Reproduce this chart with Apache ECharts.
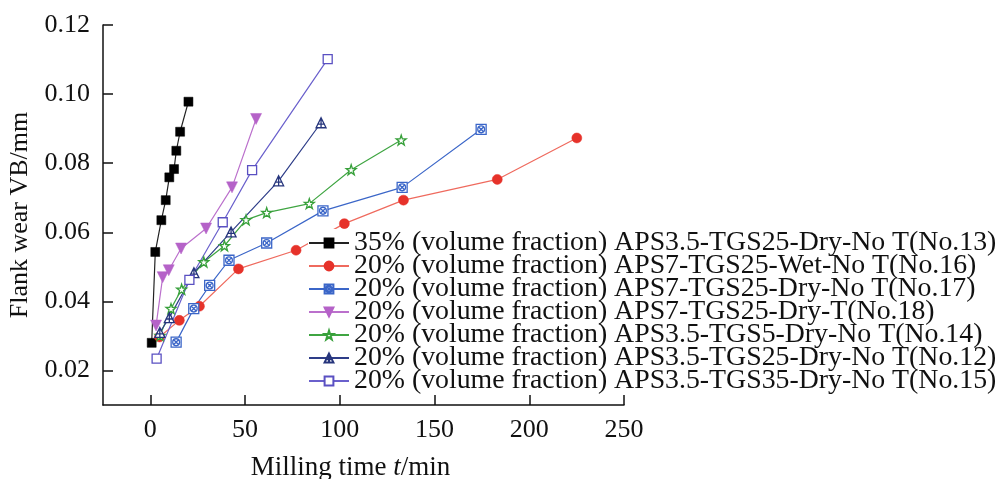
<!DOCTYPE html>
<html>
<head>
<meta charset="utf-8">
<script src="https://cdn.jsdelivr.net/npm/echarts@6/dist/echarts.min.js"></script>
<style>
  html, body { margin: 0; padding: 0; background: #fff; }
  #chart { width: 1001px; height: 479px; }
</style>
</head>
<body>
<div id="chart"></div>
<script>
// Milling time (min) and flank wear VB (mm) for each tool
const t13  = [0.7, 2.6, 5.8, 8.1, 10.0, 12.5, 13.7, 15.7, 20.1];
const vb13 = [0.028, 0.0543, 0.0635, 0.0693, 0.0759, 0.0783, 0.0836, 0.0891, 0.0978];

const t16  = [4.8, 15.3, 25.9, 46.5, 76.9, 102.4, 133.6, 183.1, 225.1];
const vb16 = [0.0297, 0.0345, 0.0386, 0.0494, 0.0548, 0.0625, 0.0693, 0.0753, 0.0873];

const t17  = [13.6, 22.9, 31.3, 41.5, 61.4, 91.1, 132.9, 174.6];
const vb17 = [0.0282, 0.0379, 0.0446, 0.0519, 0.0569, 0.0662, 0.0730, 0.0898];

const t18  = [3.0, 6.5, 9.7, 16.2, 29.4, 43.1, 55.8];
const vb18 = [0.0330, 0.0470, 0.0490, 0.0553, 0.0611, 0.0730, 0.0928];

const t14  = [5.1, 10.9, 16.5, 28.2, 39.1, 50.5, 61.4, 83.9, 106.0, 132.4];
const vb14 = [0.0301, 0.0379, 0.0435, 0.0514, 0.0561, 0.0636, 0.0657, 0.0683, 0.0781, 0.0867];

const t12  = [5.0, 10.0, 23.0, 42.6, 67.7, 90.1];
const vb12 = [0.0310, 0.0353, 0.0483, 0.0601, 0.0749, 0.0917];

const t15  = [3.3, 20.6, 38.2, 53.7, 93.6];
const vb15 = [0.0234, 0.0462, 0.0629, 0.0780, 0.1101];

const seriesNames = [
  '35% (volume fraction) APS3.5-TGS25-Dry-No T(No.13)',
  '20% (volume fraction) APS7-TGS25-Wet-No T(No.16)',
  '20% (volume fraction) APS7-TGS25-Dry-No T(No.17)',
  '20% (volume fraction) APS7-TGS25-Dry-T(No.18)',
  '20% (volume fraction) APS3.5-TGS5-Dry-No T(No.14)',
  '20% (volume fraction) APS3.5-TGS25-Dry-No T(No.12)',
  '20% (volume fraction) APS3.5-TGS35-Dry-No T(No.15)'
];

const xTicks = [0, 50, 100, 150, 200, 250];
const yTicks = [0.02, 0.04, 0.06, 0.08, 0.10, 0.12];

const FONT = 'Liberation Serif';

const pairs = (ts, vs) => ts.map((t, i) => [t, vs[i]]);

// marker shapes
const SYM_CROSS_SQUARE = 'path://M0,0H10V10H0Z M5,1.6A3.4,3.4 0 1 1 5,8.4A3.4,3.4 0 1 1 5,1.6Z M2.6,2.6L7.4,7.4M7.4,2.6L2.6,7.4';
const SYM_DOWN_TRI = 'path://M0,0H10L5,9Z';
const SYM_STAR = 'path://M5,0L6.2,3.6L10,3.6L7,5.9L8.1,9.5L5,7.3L1.9,9.5L3,5.9L0,3.6L3.8,3.6Z';
const SYM_TRI_PLUS = 'path://M5,0L10,10H0Z M5,1.5V10 M1.2,6.4H8.8';

function makeSeries(name, data, color, lineColor, symbol, size, hollow) {
  return {
    name: name,
    type: 'line',
    data: data,
    symbol: symbol,
    symbolSize: size,
    showAllSymbol: true,
    lineStyle: { color: lineColor, width: 1.2 },
    itemStyle: hollow
      ? { color: '#ffffff', borderColor: color, borderWidth: 1.3 }
      : { color: color, borderColor: color, borderWidth: 0.5 },
    emphasis: { disabled: true },
    z: 3
  };
}

const series = [
  makeSeries(seriesNames[0], pairs(t13, vb13), '#000000', '#222222', 'rect', 9, false),
  makeSeries(seriesNames[1], pairs(t16, vb16), '#e6322a', '#ef6a5e', 'circle', 10, false),
  makeSeries(seriesNames[2], pairs(t17, vb17), '#3b66c8', '#3b66c8', SYM_CROSS_SQUARE, 10, true),
  makeSeries(seriesNames[3], pairs(t18, vb18), '#b562c8', '#bb70cc', SYM_DOWN_TRI, 11, false),
  makeSeries(seriesNames[4], pairs(t14, vb14), '#37a03a', '#3fa542', SYM_STAR, 10, true),
  makeSeries(seriesNames[5], pairs(t12, vb12), '#26357c', '#2e3d88', SYM_TRI_PLUS, 10, true),
  makeSeries(seriesNames[6], pairs(t15, vb15), '#5a50c2', '#6a60cc', 'rect', 9, true)
];

const chart = echarts.init(document.getElementById('chart'), null, { renderer: 'canvas' });
chart.setOption({
  animation: false,
  backgroundColor: '#ffffff',
  grid: { left: 103, right: 377, top: 25, bottom: 74, containLabel: false, outerBoundsMode: 'none' },
  xAxis: {
    type: 'value',
    min: -25,
    max: 250,
    axisLine: { show: true, onZero: false, lineStyle: { color: '#111', width: 1.5 } },
    axisTick: { show: true, inside: true, length: 10, customValues: xTicks, lineStyle: { color: '#111', width: 1.5 } },
    axisLabel: { customValues: xTicks, margin: 12, color: '#111', fontFamily: FONT, fontSize: 26 },
    splitLine: { show: false },
    name: '{a|Milling time }{i|t}{a|/min}',
    nameLocation: 'middle',
    nameGap: 49,
    nameTextStyle: {
      padding: [0, 26, 0, 0],
      rich: {
        a: { fontFamily: FONT, fontSize: 27, color: '#111' },
        i: { fontFamily: FONT, fontSize: 27, fontStyle: 'italic', color: '#111' }
      }
    }
  },
  yAxis: {
    type: 'value',
    min: 0.01,
    max: 0.12,
    axisLine: { show: true, onZero: false, lineStyle: { color: '#111', width: 1.5 } },
    axisTick: { show: true, inside: true, length: 10, customValues: yTicks, lineStyle: { color: '#111', width: 1.5 } },
    axisLabel: {
      customValues: yTicks,
      margin: 13,
      color: '#111',
      fontFamily: FONT,
      fontSize: 26,
      formatter: v => v.toFixed(2)
    },
    splitLine: { show: false },
    name: 'Flank wear VB/mm',
    nameLocation: 'middle',
    nameRotate: 90,
    nameGap: 67,
    nameTextStyle: { fontFamily: FONT, fontSize: 26, color: '#111' }
  },
  legend: {
    orient: 'vertical',
    left: 308,
    top: 229,
    padding: 0,
    itemGap: -5,
    itemWidth: 40,
    itemHeight: 11,
    backgroundColor: '#ffffff',
    selectedMode: false,
    data: seriesNames,
    textStyle: { fontFamily: FONT, fontSize: 27.8, lineHeight: 23, color: '#111' }
  },
  series: series
});
</script>
</body>
</html>
